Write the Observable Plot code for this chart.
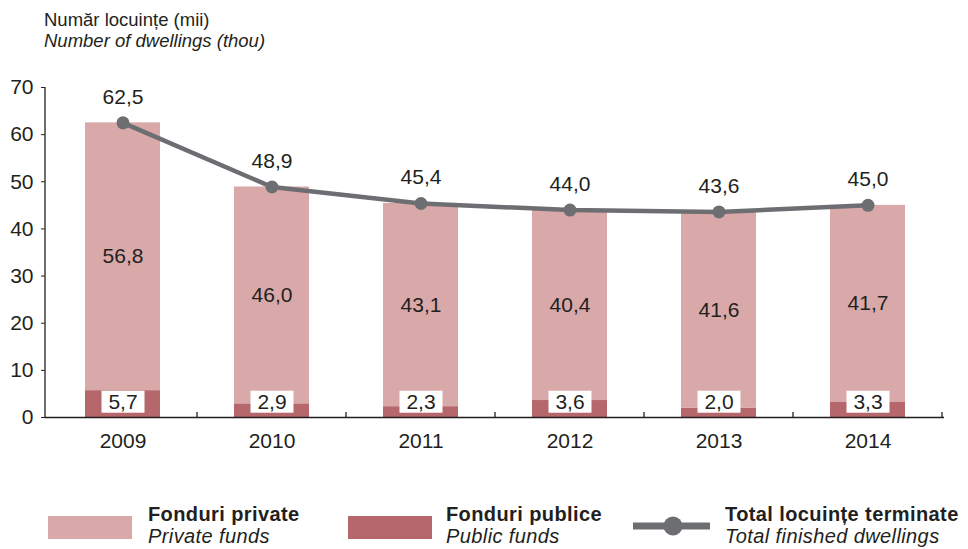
<!DOCTYPE html>
<html>
<head>
<meta charset="utf-8">
<script src="https://cdn.jsdelivr.net/npm/d3@7"></script>
<script src="https://cdn.jsdelivr.net/npm/@observablehq/plot@0.6"></script>
<style>
  body { margin: 0; background: #fff; font-family: "Liberation Sans", Arial, Helvetica, sans-serif; color: #231f20; }
  #wrap { position: relative; width: 968px; height: 549px; overflow: hidden; }
  #chart { position: absolute; left: 0; top: 0; }
  .title { position: absolute; left: 44px; top: 10px; font-size: 18.5px; line-height: 20.8px; white-space: nowrap; }
  .title i { font-style: italic; }
  .sw { position: absolute; top: 516px; width: 84px; height: 23px; }
  .lt { position: absolute; top: 503px; font-size: 20px; line-height: 22.4px; letter-spacing: 0.4px; white-space: nowrap; }
  .lt b { font-weight: bold; }
  .lt i { font-style: italic; }
  #lineLeg { position: absolute; left: 630px; top: 514px; }
</style>
</head>
<body>
<div id="wrap">
  <div id="chart"></div>
  <div class="title">Număr locuințe (mii)<br><i>Number of dwellings (thou)</i></div>
  <div class="sw" style="left:48px;background:#d9a9aa"></div>
  <div class="lt" style="left:148px"><b>Fonduri private</b><br><i>Private funds</i></div>
  <div class="sw" style="left:348px;background:#b5676c"></div>
  <div class="lt" style="left:446px"><b>Fonduri publice</b><br><i>Public funds</i></div>
  <svg id="lineLeg" width="86" height="26">
    <line x1="3" x2="80" y1="12" y2="12" stroke="#6d6e71" stroke-width="7"></line>
    <circle cx="43" cy="12" r="9.5" fill="#6d6e71"></circle>
  </svg>
  <div class="lt" style="left:725px"><b>Total locuințe terminate</b><br><i>Total finished dwellings</i></div>
</div>
<script>
const years = ["2009", "2010", "2011", "2012", "2013", "2014"];
const privateFunds = [56.8, 46.0, 43.1, 40.4, 41.6, 41.7];
const publicFunds = [5.7, 2.9, 2.3, 3.6, 2.0, 3.3];
const totals = [62.5, 48.9, 45.4, 44.0, 43.6, 45.0];
const yTicks = [0, 10, 20, 30, 40, 50, 60, 70];

const fmt = v => v.toFixed(1).replace(".", ",");
const rows = years.map((y, i) => ({year: y, priv: privateFunds[i], pub: publicFunds[i], total: totals[i]}));

const ink = "#231f20";
const plot = Plot.plot({
  width: 968,
  height: 467,
  marginLeft: 45,
  marginRight: 24,
  marginTop: 87,
  marginBottom: 50,
  style: {fontFamily: '"Liberation Sans", Arial, Helvetica, sans-serif', fontSize: "21px", color: ink, background: "transparent", overflow: "visible"},
  x: {domain: years, paddingInner: 0.5, paddingOuter: 0.25, label: null, tickSize: 0, tickPadding: 16},
  y: {domain: [0, 70], ticks: yTicks, label: null, tickSize: 4, tickPadding: 8, tickFormat: d => String(d)},
  marks: [
    Plot.barY(rows, {x: "year", y1: 0, y2: "pub", fill: "#b5676c"}),
    Plot.barY(rows, {x: "year", y1: "pub", y2: d => d.pub + d.priv, fill: "#d9a9aa"}),
    Plot.ruleY([0], {stroke: ink, strokeWidth: 1.3}),
    Plot.lineY(rows, {x: "year", y: "total", stroke: "#6d6e71", strokeWidth: 4.5}),
    Plot.dot(rows, {x: "year", y: "total", r: 6.5, fill: "#6d6e71"}),
    Plot.text(rows, {x: "year", y: "total", text: d => fmt(d.total), dy: -26, fontSize: 21, fill: ink, lineAnchor: "middle"}),
    Plot.text(rows, {x: "year", y: d => d.pub + d.priv / 2, text: d => fmt(d.priv), fontSize: 21, fill: ink, lineAnchor: "middle"}),
    Plot.text(rows, {x: "year", frameAnchor: "bottom", dy: -15, text: d => fmt(d.pub), fontSize: 21, fill: ink, lineAnchor: "middle", ariaDescription: "pub-labels"})
  ]
});
document.getElementById("chart").append(plot);

// white boxes behind public-fund labels
const svg = d3.select(plot);
svg.selectAll("g[aria-description='pub-labels'] text").each(function () {
  const b = this.getBBox();
  const w = 43, h = 22;
  d3.select(this.parentNode).insert("rect", () => this)
    .attr("x", b.x + b.width / 2 - w / 2).attr("y", b.y + b.height / 2 - h / 2)
    .attr("width", w).attr("height", h)
    .attr("transform", this.getAttribute("transform"))
    .attr("fill", "#fff");
});

// axis lines and category separators from the scales
const xs = plot.scale("x"), ys = plot.scale("y");
const axisG = svg.append("g").attr("stroke", ink).attr("stroke-width", 1.3);
axisG.append("line")
  .attr("x1", xs.range[0]).attr("x2", xs.range[0])
  .attr("y1", ys.apply(70)).attr("y2", ys.apply(0));
const half = (xs.step - xs.bandwidth) / 2;
years.forEach(y => {
  const bx = xs.apply(y) + xs.bandwidth + half;
  axisG.append("line").attr("x1", bx).attr("x2", bx)
    .attr("y1", ys.apply(0)).attr("y2", ys.apply(0) - 5);
});
</script>
</body>
</html>
